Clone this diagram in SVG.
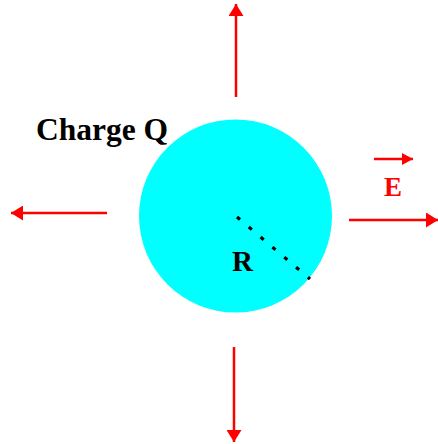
<svg xmlns="http://www.w3.org/2000/svg" width="438" height="444" viewBox="0 0 438 444">
<defs>
<marker id="ah" markerWidth="12" markerHeight="15" refX="12" refY="7.5" orient="auto" markerUnits="userSpaceOnUse">
<path d="M0,0 L12,7.5 L0,15 Z" fill="#ff0000"/>
</marker>
<marker id="ahs" markerWidth="11" markerHeight="12" refX="11" refY="6" orient="auto" markerUnits="userSpaceOnUse">
<path d="M0,0 L11,6 L0,12 Z" fill="#ff0000"/>
</marker>
</defs>
<style>
.f{stroke:#ff0000;stroke-width:2.5;fill:none;marker-end:url(#ah)}
.t{font-family:"Liberation Serif","Times New Roman",serif;font-weight:bold}
</style>
<g id="sphere">
<circle cx="235.5" cy="216" r="96.5" fill="#00ffff"/>
<line x1="237" y1="217" x2="310" y2="279" stroke="#000" stroke-width="3.2" stroke-dasharray="4 11.5"/>
<text class="t" x="242.5" y="271" font-size="29" text-anchor="middle" fill="#000">R</text>
</g>
<g id="label-charge">
<text class="t" x="36" y="140" font-size="31.5" fill="#000">Charge Q</text>
</g>
<g id="label-E">
<line x1="374" y1="159" x2="413" y2="159" stroke="#ff0000" stroke-width="2.5" marker-end="url(#ahs)"/>
<text class="t" x="393" y="196" font-size="27" text-anchor="middle" fill="#ff0000">E</text>
</g>
<g id="connectors">
<line class="f" x1="236" y1="97" x2="236" y2="4"/>
<line class="f" x1="234" y1="347" x2="234" y2="442"/>
<line class="f" x1="107" y1="213" x2="11" y2="213"/>
<line class="f" x1="349" y1="220" x2="438" y2="220"/>
</g>
</svg>
